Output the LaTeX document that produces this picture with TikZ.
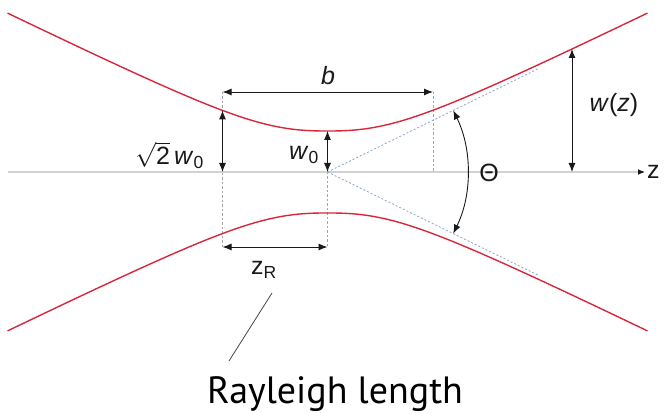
\documentclass[tikz,border=0pt]{standalone}
\usepackage{fontspec}
\setmainfont{Liberation Sans}
\newfontfamily\ptsans{PT Sans}
\usepackage{tikz}
\usetikzlibrary{arrows.meta, calc}
\definecolor{gbred}{RGB}{214,40,60}
\definecolor{gbaxis}{RGB}{210,210,210}
\definecolor{gbasym}{RGB}{150,172,205}
\definecolor{gbguide}{RGB}{165,165,165}
\definecolor{gbdark}{RGB}{25,25,25}

\pgfmathdeclarefunction{beamw}{1}{%
  \pgfmathparse{10*(4.1^2.5+(abs(0.049*#1)+0.001)^2.5)^0.4}}

\tikzset{
  dimarrow/.style={gbdark, line width=0.9pt,
    {Latex[length=9pt,width=7pt]}-{Latex[length=9pt,width=7pt]}},
  guide/.style={gbguide, line width=0.6pt, dash pattern=on 2.5pt off 2pt},
  asym/.style={gbasym, line width=0.9pt, dash pattern=on 2pt off 2pt},
  beam/.style={gbred, line width=1.4pt},
  lbl/.style={font=\fontsize{25}{27}\selectfont, text=gbdark, inner sep=0pt},
}

\begin{document}
\begin{tikzpicture}[x=1pt, y=1pt]
\useasboundingbox (0,0) rectangle (665,414);

% key points
\coordinate (O)    at (327.5,242);
\coordinate (axL)  at (8,242);
\coordinate (axR)  at (645,242);
\coordinate (bL)   at (222.5,322);
\coordinate (bR)   at (433,322);
\coordinate (bRax) at (433,242);
\coordinate (zrL)  at (222.5,167);
\coordinate (zrR)  at (327.5,167);
\coordinate (sqB)  at (222.5,242);
\coordinate (sqT)  at (222.5,303.6);
\coordinate (wT)   at (327.5,283);
\coordinate (wzB)  at (572,242);
\coordinate (wzT)  at (572,365);
\coordinate (thU)  at ($(O)+(26.1:140)$);
\coordinate (ldA)  at (272,121);
\coordinate (ldB)  at (229,53);

% ---- beam axis ----
\draw[gbaxis, line width=1.2pt, -{Latex[length=7pt,width=6pt,color=gbdark]}] (axL) -- (axR);
\node[lbl, anchor=west] (zlab) at (647,242) {z};

% ---- asymptotes ----
\draw[asym] (O) -- ++(26.1:235);
\draw[asym] (O) -- ++(-26.1:235);

% ---- guide lines ----
\draw[guide] (bL) -- (zrL);
\draw[guide] (O) -- (zrR);
\draw[guide] (bR) -- (bRax);

% ---- beam envelope ----
\draw[beam] plot[domain=-320:320, samples=120] ({327.5+\x}, {242+beamw(\x)});
\draw[beam] plot[domain=-320:320, samples=120] ({327.5+\x}, {242-beamw(\x)});

% ---- dimensions ----
\draw[dimarrow] (bL) -- (bR);
\node[lbl] (blab) at (328,338) {\itshape b};

\draw[dimarrow] (sqB) -- (sqT);
\node[lbl, anchor=east] (sqlab) at (204,259) {$\sqrt{\mbox{2}}$\,\textit{w}\textsubscript{0}};

\draw[dimarrow] (O) -- (wT);
\node[lbl, anchor=east] (wlab) at (319,259) {\textit{w}\textsubscript{0}};

\draw[dimarrow] (wzB) -- (wzT);
\node[lbl] (wzlab) at (614,309) {\textit{w}(\textit{z})};

\draw[dimarrow] (thU) arc[start angle=26.1, end angle=-26.1, radius=140];
\node[lbl] (thlab) at (489,241.5) {Θ};

\draw[dimarrow] (zrL) -- (zrR);
\node[lbl] (zrlab) at (264,144) {z\textsubscript{R}};

% ---- caption ----
\draw[gbdark!80, line width=0.8pt] (ldA) -- (ldB);
\node[font=\ptsans\fontsize{38}{40}\selectfont, anchor=base, inner sep=0pt] (rayl) at (335,10.5) {Rayleigh length};
\end{tikzpicture}
\end{document}
